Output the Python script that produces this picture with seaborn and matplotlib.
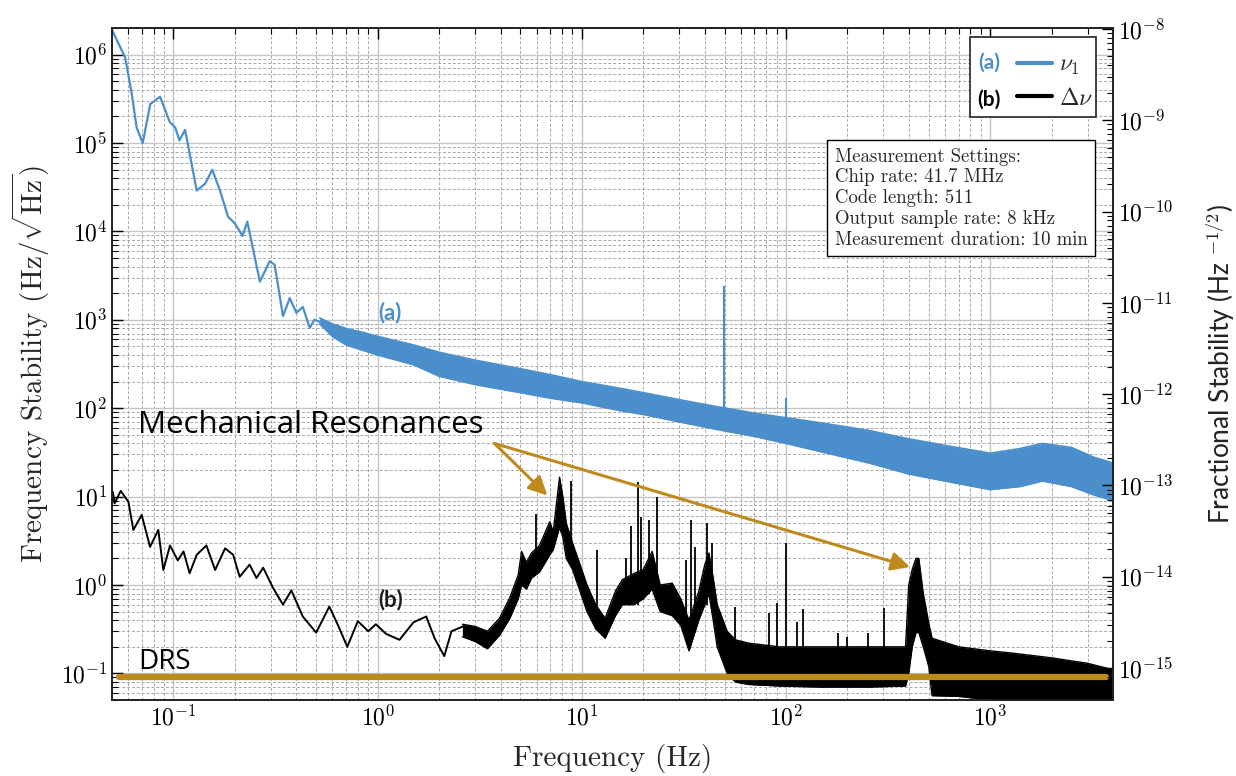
import numpy as np
import pandas as pd
import seaborn as sns
import matplotlib
matplotlib.use('Agg')
import matplotlib.pyplot as plt
from matplotlib.lines import Line2D
from matplotlib.patches import Rectangle
from matplotlib.ticker import LogLocator, FuncFormatter, NullFormatter

# ---- data ----
# (a) nu_1 : low-frequency part is a thin line
blue_thin_freq = [0.05, 0.058, 0.0625, 0.066, 0.0707, 0.077, 0.086, 0.096, 0.102, 0.107,
                  0.114, 0.13, 0.143, 0.155, 0.169, 0.185, 0.20, 0.218, 0.23, 0.265,
                  0.296, 0.313, 0.344, 0.371, 0.40, 0.43, 0.465, 0.49, 0.52]
blue_thin_val = [1.9e6, 9.3e5, 3.6e5, 1.5e5, 1.0e5, 2.76e5, 3.34e5, 1.72e5, 1.5e5, 1.07e5,
                 1.41e5, 2.9e4, 3.47e4, 4.98e4, 2.9e4, 1.47e4, 1.23e4, 8.9e3, 1.29e4, 2.7e3,
                 4.6e3, 4.2e3, 1.1e3, 1.76e3, 1.2e3, 1.4e3, 8.1e2, 1.0e3, 9.5e2]
# noisy part drawn as an envelope
blue_band_freq = [0.52, 0.6, 0.7, 0.85, 1.0, 1.5, 2.0, 3.0, 5.0, 7.0, 10, 15, 20, 30, 45,
                  70, 100, 150, 255, 400, 600, 1000, 1400, 1800, 2500, 3200, 4000]
blue_band_hi = [1050, 900, 800, 720, 650, 520, 430, 350, 280, 240, 200, 170, 150, 125, 105,
                88, 78, 68, 56, 45, 38, 31, 35, 40, 36, 28, 24]
blue_band_lo = [900, 650, 520, 450, 400, 310, 230, 185, 150, 130, 115, 95, 85, 70, 58,
                48, 40, 32, 24, 18, 15, 12, 13, 15, 13, 10.5, 9]
blue_spike_freq = [49.8, 99.6]
blue_spike_top = [2400, 131]
blue_spike_base = [60, 45]

# (b) delta nu
black_thin_freq = [0.0505, 0.0515, 0.0552, 0.0602, 0.0636, 0.0699, 0.0768, 0.0843, 0.0892,
                   0.0962, 0.105, 0.112, 0.120, 0.130, 0.145, 0.160, 0.179, 0.196, 0.211,
                   0.236, 0.255, 0.275, 0.308, 0.344, 0.378, 0.43, 0.50, 0.58, 0.64, 0.71,
                   0.80, 0.9, 0.98, 1.1, 1.28, 1.5, 1.73, 1.9, 2.12, 2.3, 2.62]
black_thin_val = [11.3, 8.4, 11.6, 8.7, 4.2, 6.2, 2.7, 4.2, 1.48, 2.8, 1.9, 2.4, 1.36, 2.2,
                  2.8, 1.48, 2.6, 2.2, 1.24, 1.7, 1.2, 1.57, 0.92, 0.60, 0.87, 0.44, 0.29,
                  0.57, 0.35, 0.20, 0.39, 0.30, 0.36, 0.28, 0.24, 0.38, 0.44, 0.25, 0.157,
                  0.30, 0.34]
black_band_freq = [2.6, 3.0, 3.45, 3.95, 4.44, 4.88, 5.07, 5.35, 5.67, 6.2, 6.97, 7.24, 7.78,
                   8.07, 8.39, 9.0, 9.72, 10.6, 11.7, 13.0, 14.6, 15.8, 18.0, 20.0, 22.1,
                   24.2, 27.7, 30.5, 33.5, 37.4, 40.0, 41.9, 44.0, 46, 51.5, 56.5, 65.5,
                   92.5, 150, 250, 385, 399, 415, 433, 447, 470, 500, 519, 700, 1000,
                   1274, 2000, 3000, 4000]
black_band_hi = [0.36, 0.34, 0.3, 0.42, 0.72, 1.3, 2.4, 1.8, 2.3, 2.8, 5.2, 4.0, 16.6,
                 10, 5.0, 3.0, 1.8, 1.0, 0.6, 0.42, 0.85, 1.15, 1.35, 1.5, 2.4,
                 1.0, 1.05, 0.7, 0.4, 0.85, 1.7, 2.3, 1.2, 0.6, 0.3, 0.24, 0.22,
                 0.2, 0.2, 0.2, 0.2, 1.0, 1.5, 2.0, 2.0, 0.8, 0.37, 0.25, 0.2, 0.18,
                 0.17, 0.15, 0.13, 0.11]
black_band_lo = [0.26, 0.23, 0.19, 0.27, 0.42, 0.7, 1.0, 0.9, 1.2, 1.4, 2.2, 2.5, 4.5,
                 3.5, 2.0, 1.5, 0.9, 0.5, 0.32, 0.25, 0.45, 0.6, 0.6, 0.7, 0.9,
                 0.5, 0.45, 0.35, 0.18, 0.4, 0.6, 0.8, 0.4, 0.2, 0.1, 0.08, 0.075,
                 0.072, 0.07, 0.07, 0.072, 0.1, 0.2, 0.29, 0.29, 0.2, 0.12, 0.056, 0.055, 0.05,
                 0.048, 0.045, 0.04, 0.035]
black_spike_freq = [5.96, 8.87, 11.9, 16.4, 17.4, 18.9, 19.5, 21.4, 23.4, 32.5, 34.3, 36.0,
                    41.0, 43.5, 56.5, 82.6, 90.6, 99.6, 113.6, 120.6, 180, 200, 253, 301]
black_spike_top = [6.4, 15.2, 2.5, 2.0, 4.6, 14.6, 5.9, 5.4, 10, 1.9, 5.4, 2.7,
                   5.0, 3.0, 0.57, 0.48, 0.62, 2.95, 0.38, 0.53, 0.29, 0.26, 0.29, 0.55]
black_spike_base = [1.5, 2.5, 0.4, 0.6, 0.6, 0.6, 0.7, 0.8, 0.9, 0.4, 0.3, 0.4,
                    0.6, 0.5, 0.1, 0.1, 0.1, 0.1, 0.1, 0.1, 0.1, 0.1, 0.1, 0.1]

# detector-limited readout (DRS)
drs_freq = [0.054, 3700]
drs_val = [0.092, 0.092]

# arrows for "Mechanical Resonances"
arrow_start = (3.73, 40)
arrow_ends = [(6.78, 10.3), (405, 1.6)]

settings_text = ("Measurement Settings:\nChip rate: 41.7 MHz\nCode length: 511\n"
                 "Output sample rate: 8 kHz\nMeasurement duration: 10 min")

BLUE = '#4A8FCB'
GOLD = '#BF8A1C'

sns.set_theme(style='white')
plt.rcParams['mathtext.fontset'] = 'cm'
plt.rcParams['font.family'] = ['DejaVu Sans']

fig = plt.figure(figsize=(12.36, 7.76), dpi=100)
ax = fig.add_axes([0.0906, 0.0979, 0.81, 0.866])

# (a)
sns.lineplot(x=blue_thin_freq, y=blue_thin_val, ax=ax, color=BLUE, lw=1.6,
             estimator=None, sort=False)
ax.fill_between(blue_band_freq, blue_band_lo, blue_band_hi, color=BLUE, lw=0)
sns.lineplot(x=blue_band_freq, y=blue_band_hi, ax=ax, color=BLUE, lw=1.2, estimator=None, sort=False)
sns.lineplot(x=blue_band_freq, y=blue_band_lo, ax=ax, color=BLUE, lw=1.2, estimator=None, sort=False)
ax.vlines(blue_spike_freq, blue_spike_base, blue_spike_top, color=BLUE, lw=1.5)

# (b)
sns.lineplot(x=black_thin_freq, y=black_thin_val, ax=ax, color='black', lw=1.4,
             estimator=None, sort=False)
ax.fill_between(black_band_freq, black_band_lo, black_band_hi, color='black', lw=0)
sns.lineplot(x=black_band_freq, y=black_band_hi, ax=ax, color='black', lw=1.0, estimator=None, sort=False)
sns.lineplot(x=black_band_freq, y=black_band_lo, ax=ax, color='black', lw=1.0, estimator=None, sort=False)
ax.vlines(black_spike_freq, black_spike_base, black_spike_top, color='black', lw=1.3)

# DRS
sns.lineplot(x=drs_freq, y=drs_val, ax=ax, color=GOLD, lw=4.5, estimator=None, sort=False)

ax.set_xscale('log')
ax.set_yscale('log')
ax.set_xlim(0.05, 4000)
ax.set_ylim(0.05, 2e6)

dec_fmt = FuncFormatter(lambda v, p: r'$10^{%d}$' % round(np.log10(v)))
for a in (ax.xaxis, ax.yaxis):
    a.set_major_locator(LogLocator(base=10, numticks=30))
    a.set_minor_locator(LogLocator(base=10, subs=np.arange(2, 10), numticks=200))
    a.set_major_formatter(dec_fmt)
    a.set_minor_formatter(NullFormatter())

ax.grid(which='major', color='#c4c4c4', lw=1.0, ls='-')
ax.grid(which='minor', color='#a8a8a8', lw=0.7, ls=(0, (3, 2)))
ax.tick_params(which='both', direction='in', top=True, right=False, colors='black',
               labelsize=17)
ax.tick_params(which='major', length=8, width=1)
ax.tick_params(which='minor', length=4, width=0.8)
for s in ax.spines.values():
    s.set_color('black')
    s.set_linewidth(1.2)

ax.set_xlabel('Frequency (Hz)', family='cmr10', fontsize=21, labelpad=10)
ax.set_ylabel(r'Frequency Stability $(\mathrm{Hz}/\sqrt{\mathrm{Hz}})$', family='cmr10',
              fontsize=21, labelpad=6)

# right axis
ax2 = ax.twinx()
ax2.set_yscale('log')
ax2.set_ylim(10 ** -15.35, 10 ** -7.99)
ax2.yaxis.set_major_locator(LogLocator(base=10, numticks=30))
ax2.yaxis.set_minor_locator(LogLocator(base=10, subs=np.arange(2, 10), numticks=200))
ax2.yaxis.set_major_formatter(dec_fmt)
ax2.yaxis.set_minor_formatter(NullFormatter())
ax2.tick_params(which='both', direction='in', labelsize=17, colors='black')
ax2.tick_params(which='major', length=8, width=1)
ax2.tick_params(which='minor', length=4, width=0.8)
ax2.grid(False)
ax2.set_ylabel(r'Fractional Stability (Hz $^{\mathsf{-1/2}}$)', family='Lato',
               fontsize=19, color='#222222', labelpad=22)

# annotations
ax.text(0.026, 0.409, 'Mechanical Resonances', transform=ax.transAxes, family='Open Sans',
        fontsize=22.5, va='center', ha='left', color='black')
ax.text(0.026, 0.057, 'DRS', transform=ax.transAxes, family='Open Sans',
        fontsize=20, va='center', ha='left', color='black')
ax.text(0.278, 0.576, '(a)', transform=ax.transAxes, family='Lato', fontweight='bold',
        fontsize=16, va='center', ha='center', color=BLUE)
ax.text(0.278, 0.149, '(b)', transform=ax.transAxes, family='Lato', fontweight='bold',
        fontsize=16, va='center', ha='center', color='#1a1a1a')
for end in arrow_ends:
    ax.annotate('', xy=end, xytext=arrow_start,
                arrowprops=dict(arrowstyle='-|>', color=GOLD, lw=2.2, mutation_scale=28,
                                shrinkA=0, shrinkB=0))

ax.text(0.722, 0.822, settings_text, transform=ax.transAxes, family='cmr10', fontsize=13.5,
        va='top', ha='left', linespacing=1.2, zorder=10,
        bbox=dict(boxstyle='square,pad=0.4', fc='white', ec='black', lw=1))

# legend
ax2.add_patch(Rectangle((0.857, 0.868), 0.126, 0.119, transform=ax.transAxes, fc='white',
                        ec='#333333', lw=1.3, zorder=5))
ax2.text(0.876, 0.949, '(a)', transform=ax.transAxes, family='Lato', fontweight='bold',
         fontsize=15, va='center', ha='center', color=BLUE, zorder=6)
ax2.text(0.876, 0.893, '(b)', transform=ax.transAxes, family='Lato', fontweight='bold',
         fontsize=15, va='center', ha='center', color='black', zorder=6)
leg = ax2.legend(handles=[Line2D([], [], color=BLUE, lw=3), Line2D([], [], color='black', lw=3)],
                 labels=[r'$\nu_1$', r'$\Delta\nu$'], loc='center left',
                 bbox_to_anchor=(0.892, 0.921), frameon=False, fontsize=17,
                 handlelength=1.5, handletextpad=0.3, labelspacing=0.35, borderpad=0)
leg.set_zorder(7)

fig.savefig('out.png', dpi=100)
